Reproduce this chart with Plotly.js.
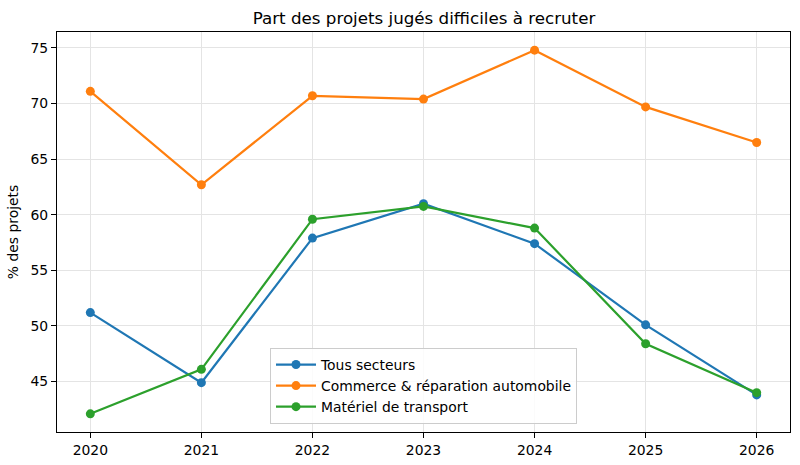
<!DOCTYPE html>
<html>
<head>
<meta charset="utf-8">
<script src="https://cdn.plot.ly/plotly-3.0.1.min.js"></script>
<style>html,body{margin:0;padding:0;background:#fff;}#chart{width:800px;height:465px;}</style>
</head>
<body>
<div id="chart"></div>
<script>
const years = [2020, 2021, 2022, 2023, 2024, 2025, 2026];
const seriesNames = ["Tous secteurs", "Commerce & réparation automobile", "Matériel de transport"];
const tousSecteurs = [51.2, 44.9, 57.9, 61.0, 57.4, 50.1, 43.8];
const commerceAuto = [71.1, 62.7, 70.7, 70.4, 74.8, 69.7, 66.5];
const materielTransport = [42.1, 46.1, 59.6, 60.75, 58.8, 48.4, 44.0];
const colors = ["#1f77b4", "#ff7f0e", "#2ca02c"];
const allValues = [tousSecteurs, commerceAuto, materielTransport];

const traces = allValues.map((vals, i) => ({
  x: years, y: vals, name: seriesNames[i], type: "scatter", mode: "lines+markers",
  line: {color: colors[i], width: 2.2},
  marker: {color: colors[i], size: 9}
}));

const flat = allValues.flat();
const ymin = Math.min(...flat), ymax = Math.max(...flat);
const pad = (ymax - ymin) * 0.05;

const axisCommon = {
  showline: true, mirror: true, linecolor: "#000", linewidth: 1,
  ticks: "outside", ticklen: 5, tickwidth: 1, tickcolor: "#000",
  showgrid: true, gridcolor: "#e4e4e4", gridwidth: 1, zeroline: false,
  tickfont: {family: "DejaVu Sans", size: 13.9, color: "#000"}
};

const layout = {
  width: 800, height: 465,
  margin: {l: 57, r: 10, t: 32, b: 33},
  paper_bgcolor: "#fff", plot_bgcolor: "#fff",
  font: {family: "DejaVu Sans", color: "#000"},
  title: {text: "Part des projets jugés difficiles à recruter", font: {family: "DejaVu Sans", size: 16.7, color: "#000"}, x: 0.53, xanchor: "center", y: 0.96, yanchor: "middle"},
  xaxis: Object.assign({}, axisCommon, {range: [years[0] - 0.3, years[years.length - 1] + 0.3], tickvals: years, ticktext: years.map(String)}),
  yaxis: Object.assign({}, axisCommon, {range: [ymin - pad, ymax + pad], tickvals: [45, 50, 55, 60, 65, 70, 75],
    title: {text: "% des projets", font: {family: "DejaVu Sans", size: 13.9, color: "#000"}, standoff: 8}}),
  legend: {x: 0.5, xanchor: "center", y: 0.02, yanchor: "bottom", bgcolor: "rgba(255,255,255,0.85)", bordercolor: "#cccccc", borderwidth: 1,
    font: {family: "DejaVu Sans", size: 13.9, color: "#000"}, tracegroupgap: 0, itemwidth: 40},
  showlegend: true
};

Plotly.newPlot("chart", traces, layout, {displayModeBar: false, staticPlot: true});
</script>
</body>
</html>
